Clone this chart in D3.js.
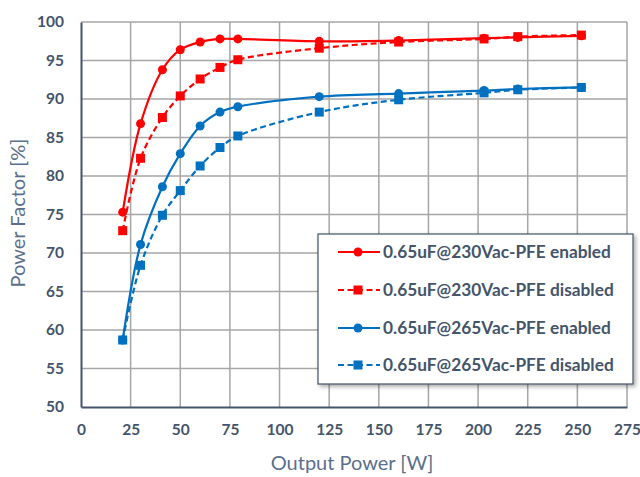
<!DOCTYPE html>
<html><head><meta charset="utf-8">
<script src="https://cdn.jsdelivr.net/npm/d3@7"></script>
<style>body{margin:0;background:#fff}svg{display:block}</style>
</head><body>
<script>
const xValues = [21, 30, 41, 50, 60, 70, 79, 120, 160, 203, 220, 252];
const pf230Enabled  = [75.3, 86.8, 93.8, 96.4, 97.4, 97.8, 97.8, 97.5, 97.6, 97.9, 98.0, 98.2];
const pf230Disabled = [72.9, 82.3, 87.6, 90.4, 92.6, 94.1, 95.1, 96.6, 97.4, 97.8, 98.1, 98.3];
const pf265Enabled  = [58.7, 71.1, 78.6, 82.9, 86.5, 88.3, 89.0, 90.3, 90.7, 91.1, 91.3, 91.5];
const pf265Disabled = [58.7, 68.4, 74.9, 78.1, 81.3, 83.7, 85.2, 88.3, 89.9, 90.8, 91.2, 91.5];
const seriesNames = ["0.65uF@230Vac-PFE enabled","0.65uF@230Vac-PFE disabled","0.65uF@265Vac-PFE enabled","0.65uF@265Vac-PFE disabled"];
const xTicks = [0,25,50,75,100,125,150,175,200,225,250,275];
const yTicks = [50,55,60,65,70,75,80,85,90,95,100];

const series = [
  {name: seriesNames[0], values: pf230Enabled,  color: "#FF0000", dashed: false, marker: "circle"},
  {name: seriesNames[1], values: pf230Disabled, color: "#FF0000", dashed: true,  marker: "square"},
  {name: seriesNames[2], values: pf265Enabled,  color: "#0070C0", dashed: false, marker: "circle"},
  {name: seriesNames[3], values: pf265Disabled, color: "#0070C0", dashed: true,  marker: "square"}
];

const W = 640, H = 477;
const svg = d3.select("body").append("svg").attr("width", W).attr("height", H);
const x = d3.scaleLinear().domain([0, 275]).range([81, 627]);
const y = d3.scaleLinear().domain([50, 100]).range([407, 22]);
const textColor = "#44546A";
const font = "Lato, 'Open Sans', sans-serif";

// grid
svg.append("g").selectAll("line.v").data(xTicks.slice(1)).join("line")
  .attr("x1", d => x(d)).attr("x2", d => x(d)).attr("y1", y(100)).attr("y2", y(50))
  .attr("stroke", "#A6A6A6").attr("stroke-width", 1.5);
svg.append("g").selectAll("line.h").data(yTicks.slice(1)).join("line")
  .attr("x1", x(0)).attr("x2", x(275)).attr("y1", d => y(d)).attr("y2", d => y(d))
  .attr("stroke", "#A6A6A6").attr("stroke-width", 1.5);

// axes
const xAxis = svg.append("g").attr("transform", `translate(0,${y(50)})`)
  .call(d3.axisBottom(x).tickValues(xTicks).tickSize(0).tickPadding(17));
const yAxis = svg.append("g").attr("transform", `translate(${x(0)},0)`)
  .call(d3.axisLeft(y).tickValues(yTicks).tickSize(0).tickPadding(17));
[xAxis, yAxis].forEach(a => {
  a.select(".domain").attr("stroke", "#44546A").attr("stroke-width", 2);
  a.selectAll("text").attr("fill", textColor).attr("font-family", font)
    .attr("font-size", 15.5).attr("font-weight", "bold");
});

// axis titles
svg.append("text").attr("x", 352).attr("y", 470).attr("text-anchor", "middle")
  .attr("fill", "#5B6F8C").attr("font-family", font).attr("font-size", 20).text("Output Power [W]");
svg.append("text").attr("transform", `translate(25,213) rotate(-90)`).attr("text-anchor", "middle")
  .attr("fill", "#5B6F8C").attr("font-family", font).attr("font-size", 20).text("Power Factor [%]");

// lines
const line = d3.line().x((d, i) => x(xValues[i])).y(d => y(d)).curve(d3.curveCatmullRom.alpha(0.5));
series.forEach(s => {
  svg.append("path").datum(s.values).attr("d", line).attr("fill", "none")
    .attr("stroke", s.color).attr("stroke-width", 2.2)
    .attr("stroke-dasharray", s.dashed ? "6,3.5" : null);
});
function drawMarker(g, type, cx, cy, color) {
  if (type === "circle") {
    g.append("circle").attr("cx", cx).attr("cy", cy).attr("r", 4.5).attr("fill", color);
  } else {
    g.append("rect").attr("x", cx - 4.5).attr("y", cy - 4.5).attr("width", 9).attr("height", 9).attr("fill", color);
  }
}
series.forEach(s => {
  const g = svg.append("g");
  s.values.forEach((v, i) => drawMarker(g, s.marker, x(xValues[i]), y(v), s.color));
});

// legend
const defs = svg.append("defs");
const f = defs.append("filter").attr("id", "sh").attr("x", "-10%").attr("y", "-10%").attr("width", "130%").attr("height", "130%");
f.append("feDropShadow").attr("dx", 2).attr("dy", 2).attr("stdDeviation", 2).attr("flood-color", "#000").attr("flood-opacity", 0.35);
svg.append("rect").attr("x", 318).attr("y", 234).attr("width", 315).attr("height", 150)
  .attr("fill", "#fff").attr("stroke", "#44546A").attr("stroke-width", 1.2).attr("filter", "url(#sh)");
const legY = [252, 290, 328, 365];
series.forEach((s, i) => {
  const g = svg.append("g");
  g.append("line").attr("x1", 338).attr("x2", 380).attr("y1", legY[i]).attr("y2", legY[i])
    .attr("stroke", s.color).attr("stroke-width", 2).attr("stroke-dasharray", s.dashed ? "6,3.5" : null);
  drawMarker(g, s.marker, 358, legY[i], s.color);
  g.append("text").attr("x", 383).attr("y", legY[i]).attr("dy", "0.35em")
    .attr("fill", textColor).attr("font-family", font).attr("font-size", 17.3).attr("font-weight", "bold")
    .text(s.name);
});
</script>
</body></html>
